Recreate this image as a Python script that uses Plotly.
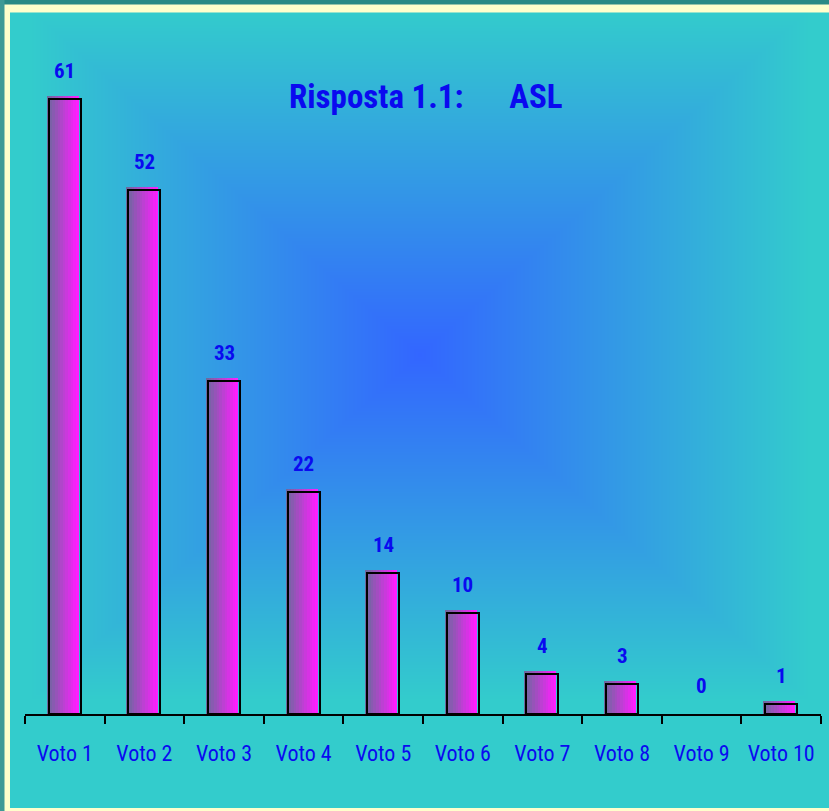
import base64
import struct
import zlib

import numpy as np
import plotly.graph_objects as go

# ---------------- data ----------------
categories = ["Voto 1", "Voto 2", "Voto 3", "Voto 4", "Voto 5",
              "Voto 6", "Voto 7", "Voto 8", "Voto 9", "Voto 10"]
values = [61, 52, 33, 22, 14, 10, 4, 3, 0, 1]
title_text = "Risposta 1.1:" + "\u00a0" * 6 + "ASL"

# ---------------- style ----------------
W, H = 829, 811
FONT = "Roboto Condensed, Open Sans Condensed, Liberation Sans Narrow, Arial Narrow, sans-serif"
BLUE = "#0A0AF0"
LEFT_COL = np.array([110, 104, 158])
RIGHT_COL = np.array([255, 30, 255])


def png_uri(arr):
    h, w, _ = arr.shape
    raw = b"".join(b"\x00" + arr[i].tobytes() for i in range(h))

    def chunk(tag, data):
        c = tag + data
        return struct.pack(">I", len(data)) + c + struct.pack(">I", zlib.crc32(c) & 0xFFFFFFFF)

    png = (b"\x89PNG\r\n\x1a\n"
           + chunk(b"IHDR", struct.pack(">IIBBBBB", w, h, 8, 2, 0, 0, 0))
           + chunk(b"IDAT", zlib.compress(raw, 9))
           + chunk(b"IEND", b""))
    return "data:image/png;base64," + base64.b64encode(png).decode()


# rectangular "from centre" background gradient (blue centre -> teal edges)
ix0, iy0, ix1, iy1 = 10, 12.5, 829, 808
gw, gh = int(ix1 - ix0), int(iy1 - iy0)
xs = np.arange(gw) + ix0 + 0.5
ys = np.arange(gh) + iy0 + 0.5
X, Y = np.meshgrid(xs, ys)
t = np.maximum(np.abs(X - 420) / 390.0, np.abs(Y - 355) / 345.0)
t = np.clip(t, 0, 1)[..., None]
c_center = np.array([51, 102, 255])
c_edge = np.array([51, 204, 204])
img = (c_center * (1 - t) + c_edge * t).round().astype(np.uint8)
bg_uri = png_uri(img)

fig = go.Figure()

# gradient-filled bars drawn as thin vertical slices (shadow copy, offset up-left)
bar_w = 0.40
n_slices = 12
shift_x = -0.025
shift_y = 0.3
shadow_vals = [v + shift_y if v > 0 else 0 for v in values]
for i in range(n_slices):
    f = i / (n_slices - 1)
    col = (LEFT_COL * (1 - f) + RIGHT_COL * f).round().astype(int)
    fig.add_trace(go.Bar(
        x=categories, y=shadow_vals,
        width=bar_w / n_slices + 0.002,
        offset=-bar_w / 2 + shift_x + i * bar_w / n_slices,
        marker=dict(color="rgb(%d,%d,%d)" % tuple(col), line=dict(width=0)),
        hoverinfo="skip", showlegend=False,
    ))

# black outline of each bar
fig.add_trace(go.Bar(
    x=categories, y=values, width=bar_w, offset=-bar_w / 2,
    marker=dict(color="rgba(0,0,0,0)",
                line=dict(color=["black" if v > 0 else "rgba(0,0,0,0)" for v in values], width=2)),
    hoverinfo="skip", showlegend=False,
))

# value labels
for c, v in zip(categories, values):
    fig.add_annotation(x=c, y=v, yshift=28, text=str(v), showarrow=False,
                       xanchor="center", yanchor="middle",
                       font=dict(family=FONT, size=21, color=BLUE, weight="bold"))

# title
fig.add_annotation(xref="paper", yref="paper", x=425.5 / W, y=1 - 97 / H,
                   xanchor="center", yanchor="middle", showarrow=False,
                   text=title_text,
                   font=dict(family=FONT, size=33, color=BLUE, weight="bold"))

fig.update_layout(
    width=W, height=H,
    margin=dict(l=0, r=0, t=0, b=0),
    paper_bgcolor="#FFFFCC",
    plot_bgcolor="rgba(0,0,0,0)",
    barmode="overlay",
    bargap=0,
    showlegend=False,
    xaxis=dict(
        domain=[25 / W, 821 / W],
        type="category",
        range=[-0.5, 9.5],
        showline=True, linecolor="black", linewidth=2,
        ticks="outside", tickson="boundaries", ticklen=8, tickwidth=1.5, tickcolor="black",
        showgrid=False, zeroline=False,
        tickfont=dict(family=FONT, size=22, color=BLUE),
        tickangle=0,
        ticklabelstandoff=19,
        fixedrange=True,
    ),
    yaxis=dict(
        domain=[(H - 714) / H, (H - 30) / H],
        range=[0, (714 - 30) / 10.08],
        visible=False, showgrid=False, zeroline=False, fixedrange=True,
    ),
    images=[dict(source=bg_uri, xref="paper", yref="paper",
                 x=ix0 / W, y=1 - iy0 / H, sizex=(ix1 - ix0) / W, sizey=(iy1 - iy0) / H,
                 xanchor="left", yanchor="top", sizing="stretch", layer="below")],
    shapes=[
        dict(type="rect", xref="paper", yref="paper", x0=0, x1=1, y0=1 - 4.5 / H, y1=1,
             fillcolor="#2A8A86", line=dict(width=0), layer="below"),
        dict(type="rect", xref="paper", yref="paper", x0=0, x1=4.5 / W, y0=0, y1=1,
             fillcolor="#3E9A96", line=dict(width=0), layer="below"),
    ],
)

fig.write_html(
    "out.html",
    config={"responsive": False, "displayModeBar": False},
    post_script="document.body.style.margin='0';document.body.style.overflow='hidden';",
)
